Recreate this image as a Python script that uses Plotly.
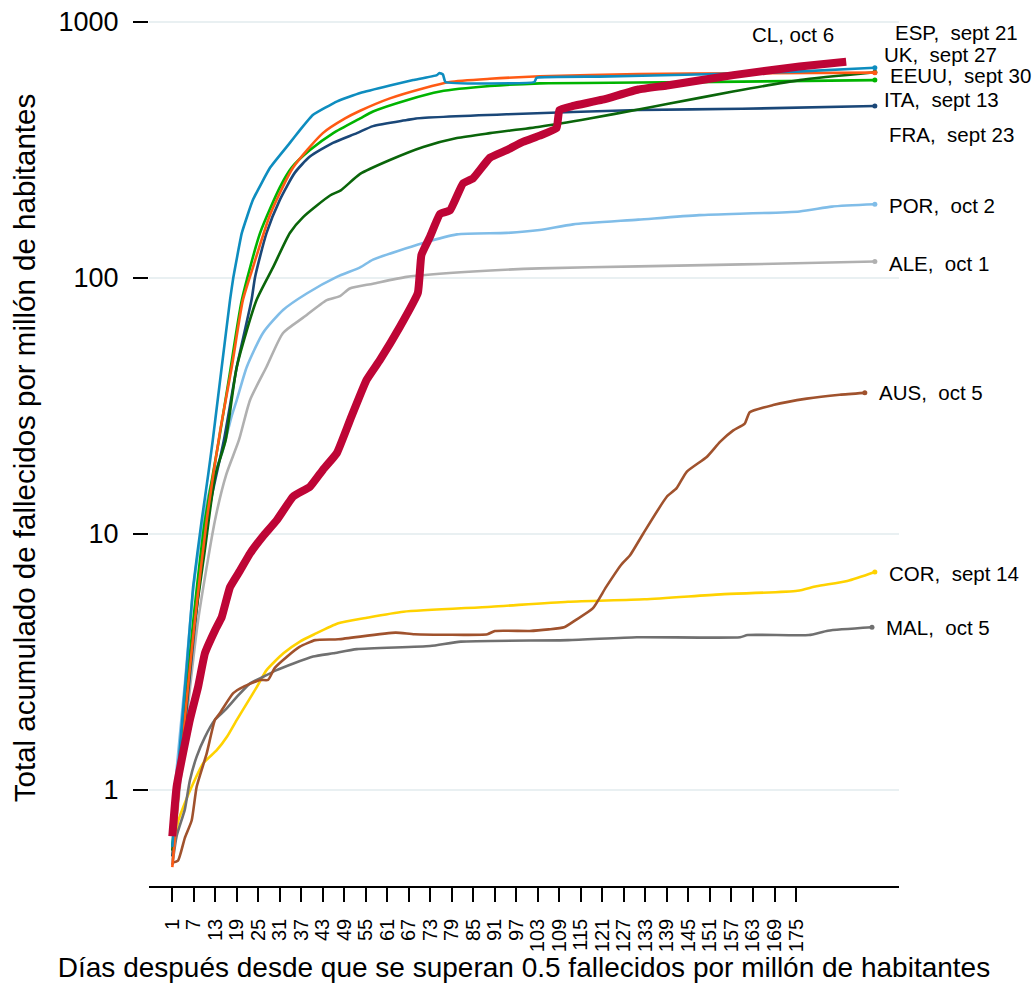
import plotly.graph_objects as go

# ---------------- data (days since 0.5 deaths per million, deaths per million) ----------------
esp_x = [1, 3, 5, 6.8, 9.2, 11, 12.3, 13, 14.8, 17.1, 18, 20.4, 23.5, 28.3, 33.8, 36.6, 40.2, 47, 53.4, 61.7,
         68.2, 74.8, 75.5, 76.5, 77.2, 102, 102.6, 120, 150, 175, 197]
esp_y = [0.6, 1.4, 3.0, 6.2, 11.3, 17, 23.3, 28, 45, 82, 100, 150, 202, 270, 337, 378, 433, 490, 528, 565,
         593, 620, 632, 624, 583, 583, 605, 612, 625, 640, 663]

uk_x = [1, 4.5, 7.3, 10.6, 14.3, 17.6, 20.7, 23.5, 28.3, 34.7, 43, 49.2, 53.4, 61.7, 70.9, 78.4, 89.6, 103.5,
        131, 160, 197]
uk_y = [0.5, 1.9, 4.6, 11.3, 25, 45, 82, 110, 177, 270, 368, 420, 450, 503, 550, 583, 600, 614,
        626, 630, 634]

ita_x = [1, 4, 7, 10, 14, 17, 20.4, 25.5, 31, 34.3, 39.4, 45.9, 53.4, 57, 66.4, 75.7, 89.6, 103.5, 131, 160, 197]
ita_y = [0.6, 1.8, 4.8, 11, 23.3, 42, 82, 150, 226, 270, 316, 368, 420, 447, 495, 535, 562, 576, 580, 585, 593]

fra_x = [1, 4, 7, 10, 12, 15.4, 19, 23.1, 24.1, 27.3, 31, 35.2, 39.4, 45.8, 52.5, 57, 66.4, 69, 94.3, 131, 160, 197]
fra_y = [0.55, 1.5, 4, 9.5, 14, 23.3, 45, 82, 101, 150, 202, 258, 298, 337, 368, 392, 414, 420, 436, 453, 458, 470]

usa_x = [1, 4, 7, 10, 13, 15.9, 19, 24.5, 29.1, 33.8, 37.5, 45, 48, 53.4, 61.7, 71, 80.4, 89.6, 103.5, 117.4,
         131, 139, 157.4, 176, 197]
usa_y = [0.58, 1.6, 4.2, 8.5, 17, 23.3, 45, 82, 110, 150, 173, 210, 220, 255, 289, 325, 352, 368, 390, 420,
         455, 478, 535, 593, 636]

por_x = [1, 2.2, 4.5, 6.8, 9, 12, 15, 17.6, 19, 21.8, 26.3, 31.9, 38.5, 46.9, 53.4, 57, 71, 80.4, 94.3, 103.5,
         112.8, 131, 148, 176, 185, 197]
por_y = [0.7, 1.2, 2.6, 6.0, 10, 16, 21, 29, 33.4, 45, 61, 75, 87, 101, 110, 118, 137, 148, 150, 154,
         162, 169, 176, 182, 190, 194]

ale_x = [1, 5, 8.2, 12.9, 16, 19.6, 22.7, 27.3, 31.9, 37.5, 44.1, 47.8, 50.5, 57, 66.4, 84.9, 103.5, 131, 160, 197]
ale_y = [0.52, 1.9, 4.6, 11.3, 17, 23.3, 33.4, 45, 61, 70, 82, 85, 91, 95, 101, 106, 109, 111, 113, 116]

cl_x = [1, 2.2, 5.9, 8.2, 10.1, 12.9, 14.8, 17.1, 19.9, 22.7, 26.3, 30.1, 34.7, 39.4, 43, 46.9, 50.6, 55.2,
        58.9, 64.5, 69.5, 70.5, 72.9, 75.7, 78.5, 82.1, 84.9, 89.6, 94.3, 98.8, 103.5, 108.2, 109, 112.8,
        121, 131, 139, 157.5, 176, 189]
cl_y = [0.66, 1.03, 1.88, 2.53, 3.42, 4.2, 4.74, 6.2, 7.2, 8.4, 9.8, 11.3, 14, 15.3, 17.8, 20.7, 27.9, 40,
        47.8, 64.5, 87.5, 123, 145, 178, 184, 234, 245, 295, 316, 340, 360, 385, 453, 470,
        497, 545, 565, 620, 670, 700]

aus_x = [1, 2.6, 4.5, 6.4, 7.8, 10.6, 12.9, 14.3, 18, 20.8, 25.5, 27.7, 29.6, 32.9, 36.6, 40.9, 47.3, 63.3,
         68.6, 88.9, 91, 100.7, 106, 110.3, 113.5, 118.3, 122, 126.3, 128.7, 132.4, 138.9, 141.7, 144.5,
         150.1, 153.8, 157.5, 160.7, 162.1, 168.6, 178, 187.2, 194.2]
aus_y = [0.52, 0.53, 0.65, 0.76, 1.03, 1.39, 1.88, 2.0, 2.39, 2.53, 2.69, 2.69, 3.0, 3.31, 3.63, 3.85, 3.88, 4.12,
         4.06, 4.06, 4.18, 4.18, 4.24, 4.32, 4.61, 5.12, 6.2, 7.6, 8.26, 10.05, 13.95, 15.1, 17.5,
         20.0, 22.9, 25.4, 27.0, 29.9, 31.9, 33.8, 35, 35.6]

cor_x = [1, 2.7, 4.5, 6.4, 9.6, 13.4, 16.2, 19, 21.8, 24.6, 27.3, 32, 36.6, 40.5, 47.3, 55, 65.5, 90, 111.4,
         132.7, 154, 175.4, 180.7, 189.3, 197]
cor_y = [0.55, 0.76, 0.89, 1.03, 1.27, 1.43, 1.61, 1.88, 2.18, 2.53, 2.94, 3.42, 3.8, 4.05, 4.48, 4.7, 4.97, 5.2,
         5.44, 5.56, 5.81, 6.0, 6.25, 6.55, 7.1]

mal_x = [1, 2.2, 4.5, 5.9, 7.8, 10.1, 12.9, 15.7, 19, 22.7, 26.4, 30.1, 34.8, 40.3, 45.9, 52.5, 72.9, 81.5,
         111.4, 130.6, 159.4, 161.5, 178.6, 183.9, 196.2]
mal_y = [0.51, 0.66, 0.84, 1.09, 1.35, 1.61, 1.88, 2.05, 2.31, 2.61, 2.77, 2.94, 3.12, 3.32, 3.42, 3.55, 3.65, 3.8,
         3.85, 3.95, 3.95, 4.03, 4.03, 4.19, 4.32]

x_tickvals = list(range(1, 176, 6))
y_tickvals = [1, 10, 100, 1000]
y_ticktext = ["1", "10", "100", "1000"]

# labels: (text, pixel-left/center x, pixel center y, anchor)
labels = [
    ("CL, oct 6", 793, 34, "center"),
    ("ESP,\u00a0 sept 21", 893, 33, "left"),
    ("UK,\u00a0 sept 27", 882, 54, "left"),
    ("EEUU,\u00a0 sept 30", 888, 76, "left"),
    ("ITA,\u00a0 sept 13", 882, 99, "left"),
    ("FRA,\u00a0 sept 23", 887, 134, "left"),
    ("POR,\u00a0 oct 2", 887, 205, "left"),
    ("ALE,\u00a0 oct 1", 887, 263, "left"),
    ("AUS,\u00a0 oct 5", 877, 392, "left"),
    ("COR,\u00a0 sept 14", 887, 573, "left"),
    ("MAL,\u00a0 oct 5", 884, 627, "left"),
]

# ---------------- figure ----------------
W, H = 1035, 989
L, R, T, B = 149, 899, 10, 886
FONT = "Liberation Sans, Arial, Helvetica, sans-serif"

series = [
    (cor_x, cor_y, "#ffd200", 2.6, True, 0.6),
    (mal_x, mal_y, "#707070", 2.6, True, 0.5),
    (aus_x, aus_y, "#a0522d", 2.6, True, 0.5),
    (ale_x, ale_y, "#b0b0b0", 2.6, True, 0.6),
    (por_x, por_y, "#80bde8", 2.6, True, 0.6),
    (fra_x, fra_y, "#1a4778", 2.6, True, 0.6),
    (ita_x, ita_y, "#00b400", 2.6, True, 0.6),
    (usa_x, usa_y, "#0a650a", 2.6, True, 0.6),
    (uk_x, uk_y, "#ff5a14", 2.6, True, 0.6),
    (esp_x, esp_y, "#0e8dbf", 2.6, True, 0.35),
    (cl_x, cl_y, "#be0536", 8, False, 0.35),
]

fig = go.Figure()
for xs, ys, col, w, mk, sm in series:
    fig.add_trace(go.Scatter(x=xs, y=ys, mode="lines",
                             line=dict(color=col, width=w, shape="spline", smoothing=sm),
                             showlegend=False, hoverinfo="skip"))
    if mk:
        fig.add_trace(go.Scatter(x=[xs[-1]], y=[ys[-1]], mode="markers",
                                 marker=dict(color=col, size=5), showlegend=False, hoverinfo="skip"))

annotations = []
for text, px, py, anch in labels:
    annotations.append(dict(text=text, x=(px - L) / (R - L), y=(B - py) / (B - T),
                            xref="paper", yref="paper", xanchor=anch, yanchor="middle",
                            showarrow=False, font=dict(family=FONT, size=20.5, color="black")))

# axis ranges from pixel calibration
px_per_day = 3.5845
x_lo = 1 + (L - 172.3) / px_per_day
x_hi = 1 + (R - 172.3) / px_per_day
y_lo = -(B - 790) / 256.0
y_hi = y_lo + (B - T) / 256.0

fig.update_layout(
    width=W, height=H,
    margin=dict(l=L, r=W - R, t=T, b=H - B, pad=0),
    paper_bgcolor="white", plot_bgcolor="white",
    font=dict(family=FONT, color="black"),
    annotations=annotations,
    xaxis=dict(range=[x_lo, x_hi], tickvals=x_tickvals, tickangle=-90,
               ticks="outside", ticklen=14, tickwidth=1.5, tickcolor="black",
               showline=True, linecolor="black", linewidth=1.5, showgrid=False, zeroline=False,
               tickfont=dict(size=20, family=FONT), ticklabelstandoff=9,
               title=dict(text="Días después desde que se superan 0.5 fallecidos por millón de habitantes",
                          font=dict(size=28, family=FONT), standoff=6),
               automargin=False),
    yaxis=dict(type="log", range=[y_lo, y_hi], tickvals=y_tickvals, ticktext=y_ticktext,
               ticks="outside", ticklen=15, tickwidth=1.5, tickcolor="black",
               showline=False, showgrid=True, gridcolor="#e9f0f2", gridwidth=2, zeroline=False,
               tickfont=dict(size=27, family=FONT), ticklabelstandoff=9,
               title=dict(text="Total acumulado de fallecidos por millón de habitantes",
                          font=dict(size=29.5, family=FONT), standoff=14),
               automargin=False),
)

fig.write_html("out.html")
